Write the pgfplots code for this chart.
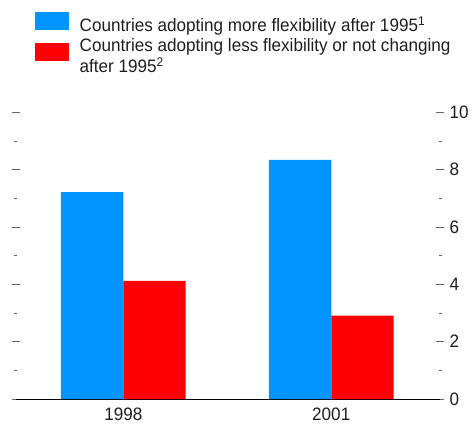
\documentclass[border=0pt]{standalone}
\usepackage{pgfplots}
\pgfplotsset{compat=1.18}
\usepackage{fontspec}
\setmainfont{Liberation Sans}
\newfontfamily\legfont[FakeStretch=0.95]{Liberation Sans}
\definecolor{barblue}{RGB}{0,148,255}
\definecolor{barred}{RGB}{255,0,0}
\definecolor{txt}{RGB}{30,30,30}
\begin{document}
\begin{tikzpicture}
\begin{axis}[
    scale only axis,
    width=424pt, height=286.7pt,
    xmin=-0.516, xmax=1.523,
    ymin=0, ymax=10,
    ybar=0pt, bar width=0.3,
    separate axis lines,
    axis x line*=bottom,
    x axis line style={black, line width=0.8pt},
    y axis line style={draw=none},
    xtick={0,1}, xticklabels={1998,2001},
    xtick style={draw=none},
    ytick={0,2,...,10}, minor ytick={1,3,...,9},
    ytick pos=both, yticklabel pos=right,
    tick align=center,
    major tick length=8pt, minor tick length=3pt,
    every tick/.style={gray!80!black, line width=0.6pt},
    every minor tick/.style={gray!80!black, line width=0.6pt},
    tick label style={font=\legfont\fontsize{18}{21}\selectfont, text=txt},
    /pgf/number format/assume math mode=true,
    yticklabel style={xshift=2pt},
    xticklabel style={yshift=-1pt},
    legend cell align=left,
    legend style={at={(axis description cs:0,1)}, anchor=north west,
        xshift=19pt, yshift=100.3pt, draw=none, fill=none, inner sep=0pt,
        font=\legfont\fontsize{18}{21.5}\selectfont, text=txt,
        row sep=4pt, column sep=10pt,
        nodes={align=left, inner sep=0.5pt}},
]
\addplot[fill=barblue, draw=none,
    legend image code/.code={\fill[barblue] (0pt,-5pt) rectangle (34pt,13pt);}]
    coordinates {(0,7.22) (1,8.34)};
\addlegendentry{Countries adopting more flexibility after 1995\textsuperscript{1}}
\addplot[fill=barred, draw=none,
    legend image code/.code={\fill[barred] (0pt,-5pt) rectangle (34pt,13pt);}]
    coordinates {(0,4.12) (1,2.91)};
\addlegendentry{Countries adopting less flexibility or not changing\\after 1995\textsuperscript{2}}
\end{axis}
\path ([xshift=-16pt,yshift=-30pt]current axis.south west) rectangle ([xshift=33pt,yshift=112.3pt]current axis.north east);
\end{tikzpicture}
\end{document}
